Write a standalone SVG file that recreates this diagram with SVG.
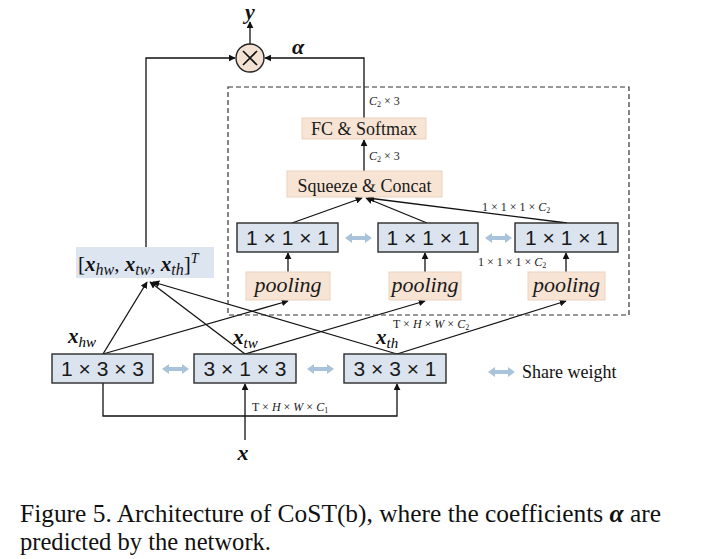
<svg xmlns="http://www.w3.org/2000/svg" width="720" height="559" viewBox="0 0 720 559">
<style>
.bx{fill:#dbe3ef;stroke:#2b2b2b;stroke-width:1.4}
.pk{fill:#f8e4d4;stroke:#ead2bf;stroke-width:1}
.bt{font-family:"Liberation Sans","DejaVu Sans",sans-serif;font-size:21px;fill:#1a1a1a;text-anchor:middle}
.pt{font-family:"Liberation Serif",serif;font-style:italic;font-size:22px;fill:#1a1a1a;text-anchor:middle}
.st{font-family:"Liberation Serif",serif;font-size:18px;fill:#1a1a1a;text-anchor:middle}
.sm{font-family:"Liberation Serif",serif;font-size:12px;fill:#222}
.mi{font-style:italic}
.mb{font-family:"Liberation Serif",serif;font-weight:bold;font-style:italic;fill:#111}
.ln{fill:none;stroke:#111;stroke-width:1.3}
.cap{font-family:"Liberation Serif",serif;font-size:25px;fill:#111}
</style>
<defs>
<marker id="ah" viewBox="0 0 10 10" refX="9" refY="5" markerWidth="7" markerHeight="7" markerUnits="userSpaceOnUse" orient="auto">
<path d="M0,0 L10,5 L0,10 z" fill="#111"/>
</marker>
<symbol id="dbl" viewBox="0 -6 27 12" overflow="visible">
<polygon points="0,0 7,-5 7,-2 20,-2 20,-5 27,0 20,5 20,2 7,2 7,5" fill="#a9c3da"/>
</symbol>
</defs>
<rect width="720" height="559" fill="#ffffff"/>

<g id="connectors">
<line class="ln" x1="250" y1="44" x2="250" y2="22" marker-end="url(#ah)"/>
<polyline class="ln" points="146,247 146,58 235,58" marker-end="url(#ah)"/>
<polyline class="ln" points="364,118 364,58 265,58" marker-end="url(#ah)"/>
<line class="ln" x1="364" y1="171" x2="364" y2="140" marker-end="url(#ah)"/>
<line class="ln" x1="292" y1="223" x2="362" y2="198" marker-end="url(#ah)"/>
<line class="ln" x1="427" y1="223" x2="366" y2="198" marker-end="url(#ah)"/>
<line class="ln" x1="567" y1="223" x2="368" y2="198" marker-end="url(#ah)"/>
<line class="ln" x1="288" y1="272" x2="288" y2="253" marker-end="url(#ah)"/>
<line class="ln" x1="425" y1="272" x2="425" y2="253" marker-end="url(#ah)"/>
<line class="ln" x1="566" y1="272" x2="566" y2="253" marker-end="url(#ah)"/>
<line class="ln" x1="103" y1="354" x2="147" y2="282" marker-end="url(#ah)"/>
<line class="ln" x1="245" y1="354" x2="150" y2="282" marker-end="url(#ah)"/>
<line class="ln" x1="397" y1="354" x2="153" y2="282" marker-end="url(#ah)"/>
<line class="ln" x1="103" y1="354" x2="288" y2="301" marker-end="url(#ah)"/>
<line class="ln" x1="245" y1="354" x2="425" y2="301" marker-end="url(#ah)"/>
<line class="ln" x1="397" y1="354" x2="566" y2="301" marker-end="url(#ah)"/>
<line class="ln" x1="245" y1="440" x2="245" y2="384" marker-end="url(#ah)"/>
<polyline class="ln" points="103,384 103,416 397,416 397,384" marker-start="url(#ah)" marker-end="url(#ah)"/>
</g>

<rect id="module" x="228" y="87" width="401" height="228" fill="none" stroke="#333" stroke-width="1.2" stroke-dasharray="5,3"/>

<g id="mult">
<circle cx="250" cy="58" r="14" fill="#f3e1d3" stroke="#222" stroke-width="1.4"/>
<path d="M243,51 L257,65 M257,51 L243,65" stroke="#111" stroke-width="1.6"/>
</g>
<text class="mb" x="250" y="19" font-size="22" text-anchor="middle">y</text>
<text class="mb" x="298" y="54" font-size="22" text-anchor="middle">α</text>

<g id="labels" class="sm">
<text x="369" y="105"><tspan class="mi">C</tspan><tspan font-size="8" dy="2">2</tspan><tspan dy="-2"> × 3</tspan></text>
<text x="369" y="160"><tspan class="mi">C</tspan><tspan font-size="8" dy="2">2</tspan><tspan dy="-2"> × 3</tspan></text>
<text x="482" y="211">1 × 1 × 1 × <tspan class="mi">C</tspan><tspan font-size="8" dy="2">2</tspan></text>
<text x="478" y="266">1 × 1 × 1 × <tspan class="mi">C</tspan><tspan font-size="8" dy="2">2</tspan></text>
<text x="393" y="328">T × <tspan class="mi">H</tspan> × <tspan class="mi">W</tspan> × <tspan class="mi">C</tspan><tspan font-size="8" dy="2">2</tspan></text>
<text x="252" y="411">T × <tspan class="mi">H</tspan> × <tspan class="mi">W</tspan> × <tspan class="mi">C</tspan><tspan font-size="8" dy="2">1</tspan></text>
</g>

<g id="fc">
<rect class="pk" x="302" y="118" width="124" height="21"/>
<text class="st" x="364" y="135">FC &amp; Softmax</text>
</g>
<g id="squeeze">
<rect class="pk" x="287" y="171" width="155" height="26"/>
<text class="st" x="364.5" y="192">Squeeze &amp; Concat</text>
</g>

<g id="conv1x1a"><rect class="bx" x="237" y="223" width="101" height="29"/><text class="bt" x="287.5" y="245">1 × 1 × 1</text></g>
<g id="conv1x1b"><rect class="bx" x="378" y="223" width="100" height="29"/><text class="bt" x="428" y="245">1 × 1 × 1</text></g>
<g id="conv1x1c"><rect class="bx" x="515" y="223" width="103" height="29"/><text class="bt" x="566.5" y="245">1 × 1 × 1</text></g>

<g id="poolA"><rect class="pk" x="246" y="272" width="84" height="28"/><text class="pt" x="288" y="292">pooling</text></g>
<g id="poolB"><rect class="pk" x="389" y="272" width="72" height="28"/><text class="pt" x="425" y="292">pooling</text></g>
<g id="poolC"><rect class="pk" x="528" y="272" width="77" height="28"/><text class="pt" x="566.5" y="292">pooling</text></g>

<g id="concat">
<rect x="76" y="247" width="138" height="31" fill="#dde5f1"/>
<text x="78" y="271" font-family="Liberation Serif,serif" font-size="21" fill="#111">[<tspan class="mb">x</tspan><tspan class="mi" font-size="16" dy="4">hw</tspan><tspan dy="-4">, </tspan><tspan class="mb">x</tspan><tspan class="mi" font-size="16" dy="4">tw</tspan><tspan dy="-4">, </tspan><tspan class="mb">x</tspan><tspan class="mi" font-size="16" dy="4">th</tspan><tspan dy="-4">]</tspan><tspan class="mi" font-size="14" dy="-8">T</tspan></text>
</g>

<g id="convA"><rect class="bx" x="52" y="354" width="101" height="29"/><text class="bt" x="102.5" y="376">1 × 3 × 3</text></g>
<g id="convB"><rect class="bx" x="194" y="354" width="102" height="29"/><text class="bt" x="245" y="376">3 × 1 × 3</text></g>
<g id="convC"><rect class="bx" x="344" y="354" width="102" height="29"/><text class="bt" x="395" y="376">3 × 3 × 1</text></g>

<g id="xlabels" font-family="Liberation Serif,serif" font-size="21">
<text x="68" y="343"><tspan class="mb">x</tspan><tspan class="mi" font-size="15" dy="4">hw</tspan></text>
<text x="233" y="344"><tspan class="mb">x</tspan><tspan class="mi" font-size="15" dy="4">tw</tspan></text>
<text x="376" y="344"><tspan class="mb">x</tspan><tspan class="mi" font-size="15" dy="4">th</tspan></text>
<text class="mb" x="243" y="460" text-anchor="middle" font-size="22">x</text>
</g>

<g id="sharearrows">
<use href="#dbl" x="345" y="232" width="27" height="12"/>
<use href="#dbl" x="485" y="232" width="27" height="12"/>
<use href="#dbl" x="162" y="363" width="27" height="12"/>
<use href="#dbl" x="307" y="363" width="27" height="12"/>
</g>

<g id="legend">
<use href="#dbl" x="488" y="366" width="27" height="12"/>
<text x="522" y="378" font-family="Liberation Serif,serif" font-size="18" fill="#111">Share weight</text>
</g>

<g id="caption" class="cap">
<text x="20" y="522" textLength="641" lengthAdjust="spacingAndGlyphs">Figure 5. Architecture of CoST(b), where the coefficients <tspan font-weight="bold" font-style="italic">α</tspan> are</text>
<text x="20" y="550" textLength="251" lengthAdjust="spacingAndGlyphs">predicted by the network.</text>
</g>
</svg>
